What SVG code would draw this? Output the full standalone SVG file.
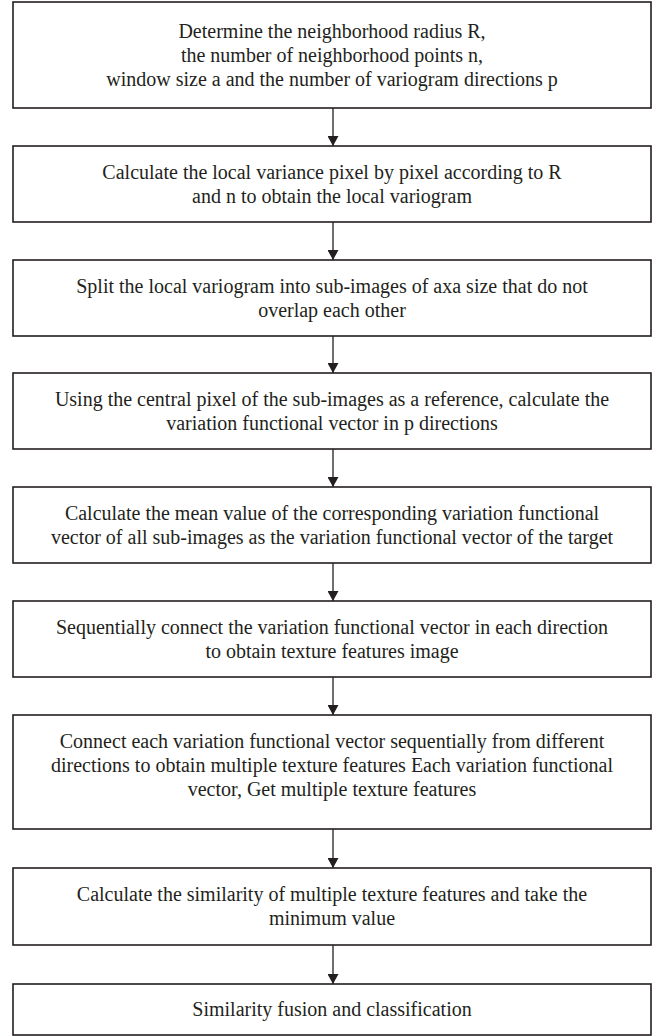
<svg xmlns="http://www.w3.org/2000/svg" width="663" height="1036" viewBox="0 0 663 1036">
<style>
.box{fill:#fff;stroke:#231f20;stroke-width:1.6}
.t{font-family:"Liberation Serif","DejaVu Serif",serif;font-size:20px;fill:#231f20;text-anchor:middle;dominant-baseline:central}
.c{stroke:#231f20;stroke-width:1.3;fill:none}
</style>
<defs>
<marker id="ah" viewBox="0 0 10 11" refX="10" refY="5.5" markerWidth="10" markerHeight="11" markerUnits="userSpaceOnUse" orient="auto">
<path d="M0,0 L10,5.5 L0,11 z" fill="#231f20"/>
</marker>
</defs>
<rect width="663" height="1036" fill="#fff"/>
<g id="connectors">
<line class="c" x1="333" y1="108" x2="333" y2="146" marker-end="url(#ah)"/>
<line class="c" x1="333" y1="222" x2="333" y2="260" marker-end="url(#ah)"/>
<line class="c" x1="333" y1="336" x2="333" y2="373" marker-end="url(#ah)"/>
<line class="c" x1="333" y1="449" x2="333" y2="487" marker-end="url(#ah)"/>
<line class="c" x1="333" y1="563" x2="333" y2="601" marker-end="url(#ah)"/>
<line class="c" x1="333" y1="677" x2="333" y2="715" marker-end="url(#ah)"/>
<line class="c" x1="333" y1="829" x2="333" y2="868" marker-end="url(#ah)"/>
<line class="c" x1="333" y1="945" x2="333" y2="984" marker-end="url(#ah)"/>
</g>
<g id="n1">
<rect class="box" x="13" y="2" width="638" height="106"/>
<text class="t" x="332" y="31">Determine the neighborhood radius R,</text>
<text class="t" x="332" y="55">the number of neighborhood points n,</text>
<text class="t" x="332" y="79">window size a and the number of variogram directions p</text>
</g>
<g id="n2">
<rect class="box" x="13" y="146" width="638" height="76"/>
<text class="t" x="332" y="172">Calculate the local variance pixel by pixel according to R</text>
<text class="t" x="332" y="196">and n to obtain the local variogram</text>
</g>
<g id="n3">
<rect class="box" x="13" y="260" width="638" height="76"/>
<text class="t" x="332" y="286">Split the local variogram into sub-images of axa size that do not</text>
<text class="t" x="332" y="310">overlap each other</text>
</g>
<g id="n4">
<rect class="box" x="13" y="373" width="638" height="76"/>
<text class="t" x="332" y="399">Using the central pixel of the sub-images as a reference, calculate the</text>
<text class="t" x="332" y="423">variation functional vector in p directions</text>
</g>
<g id="n5">
<rect class="box" x="13" y="487" width="638" height="76"/>
<text class="t" x="332" y="513">Calculate the mean value of the corresponding variation functional</text>
<text class="t" x="332" y="537">vector of all sub-images as the variation functional vector of the target</text>
</g>
<g id="n6">
<rect class="box" x="13" y="601" width="638" height="76"/>
<text class="t" x="332" y="627">Sequentially connect the variation functional vector in each direction</text>
<text class="t" x="332" y="651">to obtain texture features image</text>
</g>
<g id="n7">
<rect class="box" x="13" y="715" width="638" height="114"/>
<text class="t" x="332" y="741">Connect each variation functional vector sequentially from different</text>
<text class="t" x="332" y="765">directions to obtain multiple texture features Each variation functional</text>
<text class="t" x="332" y="789">vector, Get multiple texture features</text>
</g>
<g id="n8">
<rect class="box" x="13" y="868" width="638" height="77"/>
<text class="t" x="332" y="894">Calculate the similarity of multiple texture features and take the</text>
<text class="t" x="332" y="918">minimum value</text>
</g>
<g id="n9">
<rect class="box" x="13" y="984" width="638" height="51"/>
<text class="t" x="332" y="1009">Similarity fusion and classification</text>
</g>
</svg>
